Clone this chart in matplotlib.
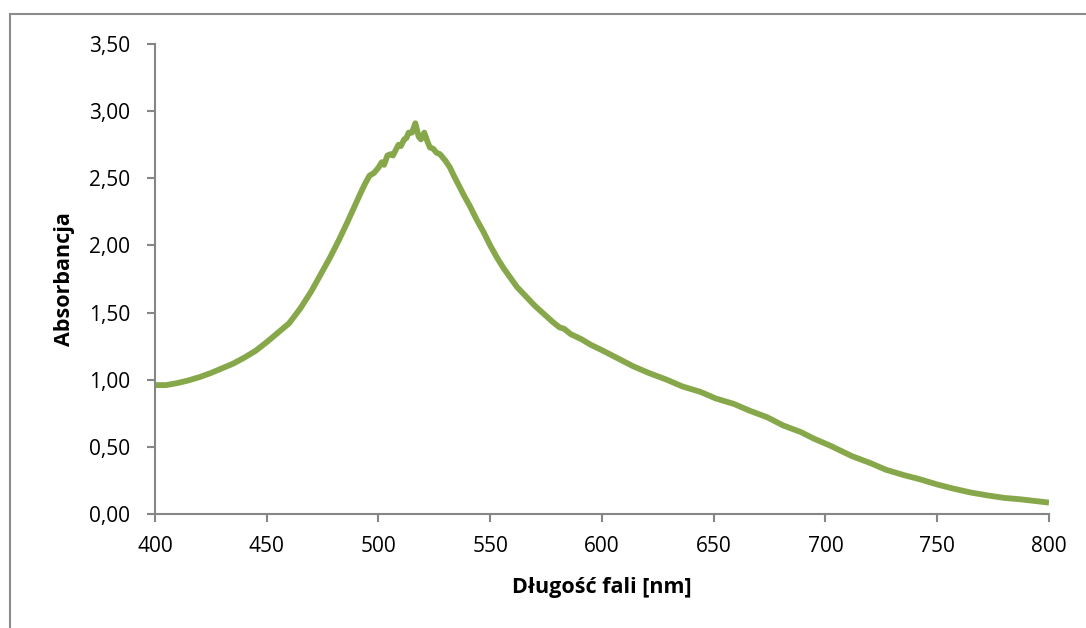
import matplotlib.pyplot as plt
from matplotlib.patches import Rectangle

# UV-Vis spectrum: wavelength [nm] and absorbance
wavelength = [400, 405, 410, 415, 420, 425, 430, 435, 440, 445, 450, 455, 460, 465,
              470, 474, 478, 482, 486, 489, 492, 494, 496, 498, 500, 501.5, 502.5,
              504, 505.5, 506.5, 508, 509, 510, 511.5, 512.5, 513.5, 515, 516.5, 518,
              519, 520.5, 522, 523, 524.5, 526, 527.5, 530, 532, 534, 536.5, 538, 541,
              544, 547, 550, 553, 556, 559, 562, 566, 570, 574, 578, 581, 583, 586,
              591, 595, 600, 607, 614, 621, 629, 636, 644, 651, 659, 666, 674, 681,
              689, 695, 702, 712, 720, 727, 735, 742, 750, 757, 765, 772, 780, 787,
              800]
absorbance = [0.96, 0.96, 0.975, 0.995, 1.02, 1.05, 1.085, 1.12, 1.165, 1.215, 1.28,
              1.35, 1.42, 1.53, 1.66, 1.78, 1.90, 2.03, 2.17, 2.28, 2.39, 2.46, 2.52,
              2.54, 2.58, 2.62, 2.60, 2.67, 2.68, 2.67, 2.72, 2.75, 2.74, 2.79, 2.80,
              2.84, 2.84, 2.91, 2.81, 2.79, 2.84, 2.77, 2.73, 2.72, 2.69, 2.68, 2.63,
              2.58, 2.51, 2.43, 2.38, 2.29, 2.19, 2.10, 2.00, 1.91, 1.83, 1.76, 1.69,
              1.62, 1.55, 1.49, 1.43, 1.39, 1.38, 1.34, 1.30, 1.26, 1.22, 1.16, 1.10,
              1.05, 1.00, 0.95, 0.91, 0.86, 0.82, 0.77, 0.72, 0.66, 0.61, 0.56, 0.51,
              0.43, 0.38, 0.33, 0.29, 0.26, 0.22, 0.19, 0.16, 0.14, 0.12, 0.11, 0.085]

xticks = [400, 450, 500, 550, 600, 650, 700, 750, 800]
yticks = [0.0, 0.5, 1.0, 1.5, 2.0, 2.5, 3.0, 3.5]

plt.rcParams['font.family'] = ['Open Sans', 'DejaVu Sans']

fig = plt.figure(figsize=(10.86, 6.28), dpi=100)
ax = fig.add_axes([0.1427, 0.1815, 0.8232, 0.7484])

ax.plot(wavelength, absorbance, color="#87A84A", linewidth=4.2,
        solid_capstyle="butt", solid_joinstyle="round")

ax.set_xlim(400, 800)
ax.set_ylim(0, 3.5)
ax.set_xticks(xticks)
ax.set_yticks(yticks)
ax.set_yticklabels([f"{v:.2f}".replace(".", ",") for v in yticks])

for side in ("top", "right"):
    ax.spines[side].set_visible(False)
for side in ("left", "bottom"):
    ax.spines[side].set_color("#868686")
    ax.spines[side].set_linewidth(1.5)
ax.tick_params(direction="out", length=6, width=1.5, color="#868686",
               labelsize=15, labelcolor="black")
ax.tick_params(axis="y", pad=12)
ax.tick_params(axis="x", pad=10)

ax.set_xlabel("Długość fali [nm]", fontsize=15.5, fontweight="bold", labelpad=14)
ax.set_ylabel("Absorbancja", fontsize=15.5, fontweight="bold", labelpad=10)

# outer chart frame
fig.patches.append(Rectangle((10 / 1086, -0.05), 1.2, (614 / 628) + 0.05,
                             transform=fig.transFigure, fill=False,
                             edgecolor="#8C8C8C", linewidth=1.5))

fig.savefig("out.png", dpi=100)
